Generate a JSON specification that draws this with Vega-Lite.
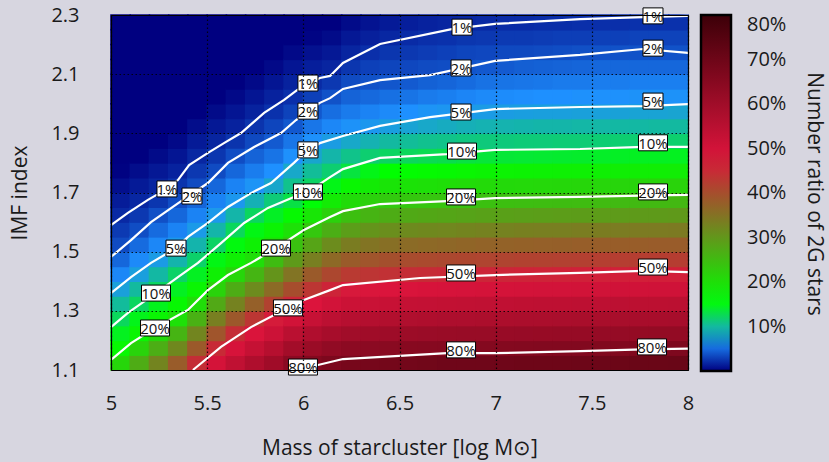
{
"$schema": "https://vega.github.io/schema/vega-lite/v6.json",
"width": 577, "height": 355,
"autosize": {"type": "none"},
"padding": {"left": 111, "top": 15, "right": 141, "bottom": 92},
"background": "#d7d6e0",
"config": {
  "font": "Open Sans",
  "view": {"stroke": null},
  "axis": {"labelFont": "Open Sans", "titleFont": "Open Sans", "labelFontSize": 20, "titleFontSize": 21, "titleFontWeight": "normal", "labelColor": "#1a1a1a", "titleColor": "#1a1a1a"}
},
"datasets": {
"grid": [
{"x":5.05,"y":1.125,"v":21.2},{"x":5.05,"y":1.175,"v":16.6},{"x":5.05,"y":1.225,"v":14.5},{"x":5.05,"y":1.275,"v":12.4},{"x":5.05,"y":1.325,"v":10.2},{"x":5.05,"y":1.375,"v":8},{"x":5.05,"y":1.425,"v":6.3},{"x":5.05,"y":1.475,"v":4.8},{"x":5.05,"y":1.525,"v":3.5},{"x":5.05,"y":1.575,"v":2.7},{"x":5.05,"y":1.625,"v":1.9},{"x":5.05,"y":1.675,"v":1.3},{"x":5.05,"y":1.725,"v":0.7},{"x":5.05,"y":1.775,"v":0.1},{"x":5.05,"y":1.825,"v":0},{"x":5.05,"y":1.875,"v":0},{"x":5.05,"y":1.925,"v":0},{"x":5.05,"y":1.975,"v":0},{"x":5.05,"y":2.025,"v":0},{"x":5.05,"y":2.075,"v":0},{"x":5.05,"y":2.125,"v":0},{"x":5.05,"y":2.175,"v":0},{"x":5.05,"y":2.225,"v":0},{"x":5.05,"y":2.275,"v":0},
{"x":5.15,"y":1.125,"v":27.1},{"x":5.15,"y":1.175,"v":21.6},{"x":5.15,"y":1.225,"v":17},{"x":5.15,"y":1.275,"v":14.7},{"x":5.15,"y":1.325,"v":12.3},{"x":5.15,"y":1.375,"v":10.1},{"x":5.15,"y":1.425,"v":7.9},{"x":5.15,"y":1.475,"v":6.4},{"x":5.15,"y":1.525,"v":5},{"x":5.15,"y":1.575,"v":3.6},{"x":5.15,"y":1.625,"v":2.6},{"x":5.15,"y":1.675,"v":1.8},{"x":5.15,"y":1.725,"v":1.2},{"x":5.15,"y":1.775,"v":0.6},{"x":5.15,"y":1.825,"v":0},{"x":5.15,"y":1.875,"v":0},{"x":5.15,"y":1.925,"v":0},{"x":5.15,"y":1.975,"v":0},{"x":5.15,"y":2.025,"v":0},{"x":5.15,"y":2.075,"v":0},{"x":5.15,"y":2.125,"v":0},{"x":5.15,"y":2.175,"v":0},{"x":5.15,"y":2.225,"v":0},{"x":5.15,"y":2.275,"v":0},
{"x":5.25,"y":1.125,"v":32.5},{"x":5.25,"y":1.175,"v":26.8},{"x":5.25,"y":1.225,"v":21.1},{"x":5.25,"y":1.275,"v":17},{"x":5.25,"y":1.325,"v":14.6},{"x":5.25,"y":1.375,"v":12.2},{"x":5.25,"y":1.425,"v":9.9},{"x":5.25,"y":1.475,"v":7.6},{"x":5.25,"y":1.525,"v":6.3},{"x":5.25,"y":1.575,"v":5},{"x":5.25,"y":1.625,"v":3.7},{"x":5.25,"y":1.675,"v":2.5},{"x":5.25,"y":1.725,"v":1.7},{"x":5.25,"y":1.775,"v":1.1},{"x":5.25,"y":1.825,"v":0.5},{"x":5.25,"y":1.875,"v":0},{"x":5.25,"y":1.925,"v":0},{"x":5.25,"y":1.975,"v":0},{"x":5.25,"y":2.025,"v":0},{"x":5.25,"y":2.075,"v":0},{"x":5.25,"y":2.125,"v":0},{"x":5.25,"y":2.175,"v":0},{"x":5.25,"y":2.225,"v":0},{"x":5.25,"y":2.275,"v":0},
{"x":5.35,"y":1.125,"v":38.1},{"x":5.35,"y":1.175,"v":32},{"x":5.35,"y":1.225,"v":25.9},{"x":5.35,"y":1.275,"v":19.8},{"x":5.35,"y":1.325,"v":16.7},{"x":5.35,"y":1.375,"v":14.4},{"x":5.35,"y":1.425,"v":12},{"x":5.35,"y":1.475,"v":9.6},{"x":5.35,"y":1.525,"v":7.4},{"x":5.35,"y":1.575,"v":6.1},{"x":5.35,"y":1.625,"v":4.8},{"x":5.35,"y":1.675,"v":3.6},{"x":5.35,"y":1.725,"v":2.4},{"x":5.35,"y":1.775,"v":1.6},{"x":5.35,"y":1.825,"v":1},{"x":5.35,"y":1.875,"v":0.4},{"x":5.35,"y":1.925,"v":0},{"x":5.35,"y":1.975,"v":0},{"x":5.35,"y":2.025,"v":0},{"x":5.35,"y":2.075,"v":0},{"x":5.35,"y":2.125,"v":0},{"x":5.35,"y":2.175,"v":0},{"x":5.35,"y":2.225,"v":0},{"x":5.35,"y":2.275,"v":0},
{"x":5.45,"y":1.125,"v":44.5},{"x":5.45,"y":1.175,"v":38.5},{"x":5.45,"y":1.225,"v":32.4},{"x":5.45,"y":1.275,"v":26.4},{"x":5.45,"y":1.325,"v":20.3},{"x":5.45,"y":1.375,"v":17},{"x":5.45,"y":1.425,"v":14.4},{"x":5.45,"y":1.475,"v":11.9},{"x":5.45,"y":1.525,"v":9.6},{"x":5.45,"y":1.575,"v":7.5},{"x":5.45,"y":1.625,"v":6.1},{"x":5.45,"y":1.675,"v":4.7},{"x":5.45,"y":1.725,"v":3.5},{"x":5.45,"y":1.775,"v":2.6},{"x":5.45,"y":1.825,"v":1.8},{"x":5.45,"y":1.875,"v":1.2},{"x":5.45,"y":1.925,"v":0.6},{"x":5.45,"y":1.975,"v":0},{"x":5.45,"y":2.025,"v":0},{"x":5.45,"y":2.075,"v":0},{"x":5.45,"y":2.125,"v":0},{"x":5.45,"y":2.175,"v":0},{"x":5.45,"y":2.225,"v":0},{"x":5.45,"y":2.275,"v":0},
{"x":5.55,"y":1.125,"v":49.6},{"x":5.55,"y":1.175,"v":44.9},{"x":5.55,"y":1.225,"v":39.1},{"x":5.55,"y":1.275,"v":33.3},{"x":5.55,"y":1.325,"v":27.5},{"x":5.55,"y":1.375,"v":21.7},{"x":5.55,"y":1.425,"v":17.8},{"x":5.55,"y":1.475,"v":14.9},{"x":5.55,"y":1.525,"v":12.1},{"x":5.55,"y":1.575,"v":9.7},{"x":5.55,"y":1.625,"v":7.4},{"x":5.55,"y":1.675,"v":6.1},{"x":5.55,"y":1.725,"v":4.8},{"x":5.55,"y":1.775,"v":3.5},{"x":5.55,"y":1.825,"v":2.5},{"x":5.55,"y":1.875,"v":1.7},{"x":5.55,"y":1.925,"v":1.1},{"x":5.55,"y":1.975,"v":0.5},{"x":5.55,"y":2.025,"v":0},{"x":5.55,"y":2.075,"v":0},{"x":5.55,"y":2.125,"v":0},{"x":5.55,"y":2.175,"v":0},{"x":5.55,"y":2.225,"v":0},{"x":5.55,"y":2.275,"v":0},
{"x":5.65,"y":1.125,"v":53.6},{"x":5.65,"y":1.175,"v":49.2},{"x":5.65,"y":1.225,"v":44.5},{"x":5.65,"y":1.275,"v":38.6},{"x":5.65,"y":1.325,"v":32.8},{"x":5.65,"y":1.375,"v":27},{"x":5.65,"y":1.425,"v":21.2},{"x":5.65,"y":1.475,"v":17.8},{"x":5.65,"y":1.525,"v":15.1},{"x":5.65,"y":1.575,"v":12.4},{"x":5.65,"y":1.625,"v":9.7},{"x":5.65,"y":1.675,"v":7.3},{"x":5.65,"y":1.725,"v":6.1},{"x":5.65,"y":1.775,"v":4.8},{"x":5.65,"y":1.825,"v":3.6},{"x":5.65,"y":1.875,"v":2.4},{"x":5.65,"y":1.925,"v":1.6},{"x":5.65,"y":1.975,"v":1},{"x":5.65,"y":2.025,"v":0.4},{"x":5.65,"y":2.075,"v":0},{"x":5.65,"y":2.125,"v":0},{"x":5.65,"y":2.175,"v":0},{"x":5.65,"y":2.225,"v":0},{"x":5.65,"y":2.275,"v":0},
{"x":5.75,"y":1.125,"v":57.1},{"x":5.75,"y":1.175,"v":52.7},{"x":5.75,"y":1.225,"v":48.4},{"x":5.75,"y":1.275,"v":43.3},{"x":5.75,"y":1.325,"v":37.5},{"x":5.75,"y":1.375,"v":31.6},{"x":5.75,"y":1.425,"v":25.8},{"x":5.75,"y":1.475,"v":20.2},{"x":5.75,"y":1.525,"v":17.6},{"x":5.75,"y":1.575,"v":14.9},{"x":5.75,"y":1.625,"v":12.3},{"x":5.75,"y":1.675,"v":9.3},{"x":5.75,"y":1.725,"v":7},{"x":5.75,"y":1.775,"v":5.8},{"x":5.75,"y":1.825,"v":4.6},{"x":5.75,"y":1.875,"v":3.4},{"x":5.75,"y":1.925,"v":2.4},{"x":5.75,"y":1.975,"v":1.6},{"x":5.75,"y":2.025,"v":1},{"x":5.75,"y":2.075,"v":0.4},{"x":5.75,"y":2.125,"v":0},{"x":5.75,"y":2.175,"v":0},{"x":5.75,"y":2.225,"v":0},{"x":5.75,"y":2.275,"v":0},
{"x":5.85,"y":1.125,"v":60.1},{"x":5.85,"y":1.175,"v":55.7},{"x":5.85,"y":1.225,"v":51.3},{"x":5.85,"y":1.275,"v":47},{"x":5.85,"y":1.325,"v":41.6},{"x":5.85,"y":1.375,"v":36},{"x":5.85,"y":1.425,"v":30.4},{"x":5.85,"y":1.475,"v":24.8},{"x":5.85,"y":1.525,"v":20.1},{"x":5.85,"y":1.575,"v":17.2},{"x":5.85,"y":1.625,"v":14.3},{"x":5.85,"y":1.675,"v":11.4},{"x":5.85,"y":1.725,"v":8.5},{"x":5.85,"y":1.775,"v":6.7},{"x":5.85,"y":1.825,"v":5.4},{"x":5.85,"y":1.875,"v":4.2},{"x":5.85,"y":1.925,"v":3.2},{"x":5.85,"y":1.975,"v":2.3},{"x":5.85,"y":2.025,"v":1.6},{"x":5.85,"y":2.075,"v":1},{"x":5.85,"y":2.125,"v":0.4},{"x":5.85,"y":2.175,"v":0},{"x":5.85,"y":2.225,"v":0},{"x":5.85,"y":2.275,"v":0},
{"x":5.95,"y":1.125,"v":64.2},{"x":5.95,"y":1.175,"v":59.5},{"x":5.95,"y":1.225,"v":54.8},{"x":5.95,"y":1.275,"v":50.2},{"x":5.95,"y":1.325,"v":45.5},{"x":5.95,"y":1.375,"v":40.1},{"x":5.95,"y":1.425,"v":34.8},{"x":5.95,"y":1.475,"v":29.5},{"x":5.95,"y":1.525,"v":24.2},{"x":5.95,"y":1.575,"v":19.8},{"x":5.95,"y":1.625,"v":16.5},{"x":5.95,"y":1.675,"v":13.2},{"x":5.95,"y":1.725,"v":10.7},{"x":5.95,"y":1.775,"v":8.6},{"x":5.95,"y":1.825,"v":6.8},{"x":5.95,"y":1.875,"v":5.5},{"x":5.95,"y":1.925,"v":4.1},{"x":5.95,"y":1.975,"v":3.1},{"x":5.95,"y":2.025,"v":2.2},{"x":5.95,"y":2.075,"v":1.6},{"x":5.95,"y":2.125,"v":1},{"x":5.95,"y":2.175,"v":0.4},{"x":5.95,"y":2.225,"v":0},{"x":5.95,"y":2.275,"v":0},
{"x":6.05,"y":1.125,"v":65.8},{"x":6.05,"y":1.175,"v":61.3},{"x":6.05,"y":1.225,"v":56.9},{"x":6.05,"y":1.275,"v":52.5},{"x":6.05,"y":1.325,"v":48},{"x":6.05,"y":1.375,"v":43.3},{"x":6.05,"y":1.425,"v":38.3},{"x":6.05,"y":1.475,"v":33.3},{"x":6.05,"y":1.525,"v":28.2},{"x":6.05,"y":1.575,"v":23.2},{"x":6.05,"y":1.625,"v":19.1},{"x":6.05,"y":1.675,"v":15.4},{"x":6.05,"y":1.725,"v":12.1},{"x":6.05,"y":1.775,"v":10.3},{"x":6.05,"y":1.825,"v":8.4},{"x":6.05,"y":1.875,"v":6.8},{"x":6.05,"y":1.925,"v":5.5},{"x":6.05,"y":1.975,"v":4.1},{"x":6.05,"y":2.025,"v":3},{"x":6.05,"y":2.075,"v":2},{"x":6.05,"y":2.125,"v":1.4},{"x":6.05,"y":2.175,"v":0.8},{"x":6.05,"y":2.225,"v":0.2},{"x":6.05,"y":2.275,"v":0},
{"x":6.15,"y":1.125,"v":67.3},{"x":6.15,"y":1.175,"v":63},{"x":6.15,"y":1.225,"v":58.7},{"x":6.15,"y":1.275,"v":54.4},{"x":6.15,"y":1.325,"v":50.1},{"x":6.15,"y":1.375,"v":45.8},{"x":6.15,"y":1.425,"v":41},{"x":6.15,"y":1.475,"v":36.3},{"x":6.15,"y":1.525,"v":31.5},{"x":6.15,"y":1.575,"v":26.7},{"x":6.15,"y":1.625,"v":22},{"x":6.15,"y":1.675,"v":18.4},{"x":6.15,"y":1.725,"v":14.8},{"x":6.15,"y":1.775,"v":11.7},{"x":6.15,"y":1.825,"v":9.7},{"x":6.15,"y":1.875,"v":7.7},{"x":6.15,"y":1.925,"v":6.3},{"x":6.15,"y":1.975,"v":5.1},{"x":6.15,"y":2.025,"v":3.8},{"x":6.15,"y":2.075,"v":2.6},{"x":6.15,"y":2.125,"v":1.7},{"x":6.15,"y":2.175,"v":1.1},{"x":6.15,"y":2.225,"v":0.5},{"x":6.15,"y":2.275,"v":0},
{"x":6.25,"y":1.125,"v":68.2},{"x":6.25,"y":1.175,"v":64},{"x":6.25,"y":1.225,"v":59.8},{"x":6.25,"y":1.275,"v":55.6},{"x":6.25,"y":1.325,"v":51.4},{"x":6.25,"y":1.375,"v":47.3},{"x":6.25,"y":1.425,"v":42.8},{"x":6.25,"y":1.475,"v":38.2},{"x":6.25,"y":1.525,"v":33.6},{"x":6.25,"y":1.575,"v":29},{"x":6.25,"y":1.625,"v":24.4},{"x":6.25,"y":1.675,"v":20.5},{"x":6.25,"y":1.725,"v":16.9},{"x":6.25,"y":1.775,"v":13.4},{"x":6.25,"y":1.825,"v":10.8},{"x":6.25,"y":1.875,"v":8.6},{"x":6.25,"y":1.925,"v":6.9},{"x":6.25,"y":1.975,"v":5.7},{"x":6.25,"y":2.025,"v":4.6},{"x":6.25,"y":2.075,"v":3.5},{"x":6.25,"y":2.125,"v":2.5},{"x":6.25,"y":2.175,"v":1.7},{"x":6.25,"y":2.225,"v":1.1},{"x":6.25,"y":2.275,"v":0.5},
{"x":6.35,"y":1.125,"v":68.4},{"x":6.35,"y":1.175,"v":64.3},{"x":6.35,"y":1.225,"v":60.1},{"x":6.35,"y":1.275,"v":56},{"x":6.35,"y":1.325,"v":51.9},{"x":6.35,"y":1.375,"v":47.7},{"x":6.35,"y":1.425,"v":43.5},{"x":6.35,"y":1.475,"v":39.1},{"x":6.35,"y":1.525,"v":34.7},{"x":6.35,"y":1.575,"v":30.3},{"x":6.35,"y":1.625,"v":25.9},{"x":6.35,"y":1.675,"v":21.9},{"x":6.35,"y":1.725,"v":18.3},{"x":6.35,"y":1.775,"v":14.8},{"x":6.35,"y":1.825,"v":11.7},{"x":6.35,"y":1.875,"v":9.4},{"x":6.35,"y":1.925,"v":7.3},{"x":6.35,"y":1.975,"v":6.1},{"x":6.35,"y":2.025,"v":4.9},{"x":6.35,"y":2.075,"v":3.8},{"x":6.35,"y":2.125,"v":3},{"x":6.35,"y":2.175,"v":2.2},{"x":6.35,"y":2.225,"v":1.5},{"x":6.35,"y":2.275,"v":0.9},
{"x":6.45,"y":1.125,"v":68.8},{"x":6.45,"y":1.175,"v":64.6},{"x":6.45,"y":1.225,"v":60.5},{"x":6.45,"y":1.275,"v":56.4},{"x":6.45,"y":1.325,"v":52.3},{"x":6.45,"y":1.375,"v":48.2},{"x":6.45,"y":1.425,"v":44},{"x":6.45,"y":1.475,"v":39.8},{"x":6.45,"y":1.525,"v":35.5},{"x":6.45,"y":1.575,"v":31.2},{"x":6.45,"y":1.625,"v":27},{"x":6.45,"y":1.675,"v":22.9},{"x":6.45,"y":1.725,"v":19.3},{"x":6.45,"y":1.775,"v":15.7},{"x":6.45,"y":1.825,"v":12.2},{"x":6.45,"y":1.875,"v":10},{"x":6.45,"y":1.925,"v":7.8},{"x":6.45,"y":1.975,"v":6.4},{"x":6.45,"y":2.025,"v":5.2},{"x":6.45,"y":2.075,"v":4},{"x":6.45,"y":2.125,"v":3.2},{"x":6.45,"y":2.175,"v":2.5},{"x":6.45,"y":2.225,"v":1.8},{"x":6.45,"y":2.275,"v":1.2},
{"x":6.55,"y":1.125,"v":69.1},{"x":6.55,"y":1.175,"v":65},{"x":6.55,"y":1.225,"v":60.9},{"x":6.55,"y":1.275,"v":56.8},{"x":6.55,"y":1.325,"v":52.8},{"x":6.55,"y":1.375,"v":48.7},{"x":6.55,"y":1.425,"v":44.5},{"x":6.55,"y":1.475,"v":40.3},{"x":6.55,"y":1.525,"v":36},{"x":6.55,"y":1.575,"v":31.7},{"x":6.55,"y":1.625,"v":27.4},{"x":6.55,"y":1.675,"v":23.3},{"x":6.55,"y":1.725,"v":19.6},{"x":6.55,"y":1.775,"v":16},{"x":6.55,"y":1.825,"v":12.4},{"x":6.55,"y":1.875,"v":10.3},{"x":6.55,"y":1.925,"v":8.2},{"x":6.55,"y":1.975,"v":6.7},{"x":6.55,"y":2.025,"v":5.4},{"x":6.55,"y":2.075,"v":4.2},{"x":6.55,"y":2.125,"v":3.3},{"x":6.55,"y":2.175,"v":2.6},{"x":6.55,"y":2.225,"v":2},{"x":6.55,"y":2.275,"v":1.4},
{"x":6.65,"y":1.125,"v":69.4},{"x":6.65,"y":1.175,"v":65.3},{"x":6.65,"y":1.225,"v":61.2},{"x":6.65,"y":1.275,"v":57.1},{"x":6.65,"y":1.325,"v":53.1},{"x":6.65,"y":1.375,"v":49},{"x":6.65,"y":1.425,"v":44.8},{"x":6.65,"y":1.475,"v":40.6},{"x":6.65,"y":1.525,"v":36.3},{"x":6.65,"y":1.575,"v":32},{"x":6.65,"y":1.625,"v":27.7},{"x":6.65,"y":1.675,"v":23.5},{"x":6.65,"y":1.725,"v":19.9},{"x":6.65,"y":1.775,"v":16.3},{"x":6.65,"y":1.825,"v":12.7},{"x":6.65,"y":1.875,"v":10.6},{"x":6.65,"y":1.925,"v":8.6},{"x":6.65,"y":1.975,"v":7},{"x":6.65,"y":2.025,"v":5.7},{"x":6.65,"y":2.075,"v":4.5},{"x":6.65,"y":2.125,"v":3.5},{"x":6.65,"y":2.175,"v":2.8},{"x":6.65,"y":2.225,"v":2.2},{"x":6.65,"y":2.275,"v":1.6},
{"x":6.75,"y":1.125,"v":69.7},{"x":6.75,"y":1.175,"v":65.5},{"x":6.75,"y":1.225,"v":61.5},{"x":6.75,"y":1.275,"v":57.4},{"x":6.75,"y":1.325,"v":53.3},{"x":6.75,"y":1.375,"v":49.3},{"x":6.75,"y":1.425,"v":45.1},{"x":6.75,"y":1.475,"v":40.8},{"x":6.75,"y":1.525,"v":36.5},{"x":6.75,"y":1.575,"v":32.2},{"x":6.75,"y":1.625,"v":28},{"x":6.75,"y":1.675,"v":23.7},{"x":6.75,"y":1.725,"v":20.1},{"x":6.75,"y":1.775,"v":16.5},{"x":6.75,"y":1.825,"v":12.9},{"x":6.75,"y":1.875,"v":10.8},{"x":6.75,"y":1.925,"v":8.9},{"x":6.75,"y":1.975,"v":7.2},{"x":6.75,"y":2.025,"v":5.9},{"x":6.75,"y":2.075,"v":4.7},{"x":6.75,"y":2.125,"v":3.6},{"x":6.75,"y":2.175,"v":3},{"x":6.75,"y":2.225,"v":2.3},{"x":6.75,"y":2.275,"v":1.7},
{"x":6.85,"y":1.125,"v":69.7},{"x":6.85,"y":1.175,"v":65.6},{"x":6.85,"y":1.225,"v":61.6},{"x":6.85,"y":1.275,"v":57.5},{"x":6.85,"y":1.325,"v":53.5},{"x":6.85,"y":1.375,"v":49.5},{"x":6.85,"y":1.425,"v":45.4},{"x":6.85,"y":1.475,"v":41.1},{"x":6.85,"y":1.525,"v":36.8},{"x":6.85,"y":1.575,"v":32.5},{"x":6.85,"y":1.625,"v":28.3},{"x":6.85,"y":1.675,"v":24},{"x":6.85,"y":1.725,"v":20.4},{"x":6.85,"y":1.775,"v":16.9},{"x":6.85,"y":1.825,"v":13.3},{"x":6.85,"y":1.875,"v":11.1},{"x":6.85,"y":1.925,"v":9.2},{"x":6.85,"y":1.975,"v":7.4},{"x":6.85,"y":2.025,"v":6.2},{"x":6.85,"y":2.075,"v":5},{"x":6.85,"y":2.125,"v":3.9},{"x":6.85,"y":2.175,"v":3.2},{"x":6.85,"y":2.225,"v":2.5},{"x":6.85,"y":2.275,"v":1.8},
{"x":6.95,"y":1.125,"v":69.7},{"x":6.95,"y":1.175,"v":65.6},{"x":6.95,"y":1.225,"v":61.6},{"x":6.95,"y":1.275,"v":57.6},{"x":6.95,"y":1.325,"v":53.6},{"x":6.95,"y":1.375,"v":49.6},{"x":6.95,"y":1.425,"v":45.6},{"x":6.95,"y":1.475,"v":41.3},{"x":6.95,"y":1.525,"v":37.1},{"x":6.95,"y":1.575,"v":32.8},{"x":6.95,"y":1.625,"v":28.6},{"x":6.95,"y":1.675,"v":24.3},{"x":6.95,"y":1.725,"v":20.7},{"x":6.95,"y":1.775,"v":17.2},{"x":6.95,"y":1.825,"v":13.6},{"x":6.95,"y":1.875,"v":11.3},{"x":6.95,"y":1.925,"v":9.4},{"x":6.95,"y":1.975,"v":7.6},{"x":6.95,"y":2.025,"v":6.4},{"x":6.95,"y":2.075,"v":5.3},{"x":6.95,"y":2.125,"v":4.1},{"x":6.95,"y":2.175,"v":3.3},{"x":6.95,"y":2.225,"v":2.6},{"x":6.95,"y":2.275,"v":1.9},
{"x":7.05,"y":1.125,"v":69.8},{"x":7.05,"y":1.175,"v":65.7},{"x":7.05,"y":1.225,"v":61.7},{"x":7.05,"y":1.275,"v":57.7},{"x":7.05,"y":1.325,"v":53.7},{"x":7.05,"y":1.375,"v":49.7},{"x":7.05,"y":1.425,"v":45.7},{"x":7.05,"y":1.475,"v":41.4},{"x":7.05,"y":1.525,"v":37.2},{"x":7.05,"y":1.575,"v":32.9},{"x":7.05,"y":1.625,"v":28.7},{"x":7.05,"y":1.675,"v":24.4},{"x":7.05,"y":1.725,"v":20.8},{"x":7.05,"y":1.775,"v":17.3},{"x":7.05,"y":1.825,"v":13.7},{"x":7.05,"y":1.875,"v":11.3},{"x":7.05,"y":1.925,"v":9.5},{"x":7.05,"y":1.975,"v":7.7},{"x":7.05,"y":2.025,"v":6.5},{"x":7.05,"y":2.075,"v":5.4},{"x":7.05,"y":2.125,"v":4.2},{"x":7.05,"y":2.175,"v":3.4},{"x":7.05,"y":2.225,"v":2.7},{"x":7.05,"y":2.275,"v":2},
{"x":7.15,"y":1.125,"v":69.9},{"x":7.15,"y":1.175,"v":65.8},{"x":7.15,"y":1.225,"v":61.8},{"x":7.15,"y":1.275,"v":57.8},{"x":7.15,"y":1.325,"v":53.9},{"x":7.15,"y":1.375,"v":49.9},{"x":7.15,"y":1.425,"v":45.9},{"x":7.15,"y":1.475,"v":41.6},{"x":7.15,"y":1.525,"v":37.4},{"x":7.15,"y":1.575,"v":33.1},{"x":7.15,"y":1.625,"v":28.9},{"x":7.15,"y":1.675,"v":24.6},{"x":7.15,"y":1.725,"v":20.9},{"x":7.15,"y":1.775,"v":17.4},{"x":7.15,"y":1.825,"v":13.8},{"x":7.15,"y":1.875,"v":11.4},{"x":7.15,"y":1.925,"v":9.6},{"x":7.15,"y":1.975,"v":7.8},{"x":7.15,"y":2.025,"v":6.6},{"x":7.15,"y":2.075,"v":5.5},{"x":7.15,"y":2.125,"v":4.4},{"x":7.15,"y":2.175,"v":3.4},{"x":7.15,"y":2.225,"v":2.7},{"x":7.15,"y":2.275,"v":2},
{"x":7.25,"y":1.125,"v":70},{"x":7.25,"y":1.175,"v":65.9},{"x":7.25,"y":1.225,"v":61.9},{"x":7.25,"y":1.275,"v":57.9},{"x":7.25,"y":1.325,"v":54},{"x":7.25,"y":1.375,"v":50},{"x":7.25,"y":1.425,"v":46},{"x":7.25,"y":1.475,"v":41.7},{"x":7.25,"y":1.525,"v":37.5},{"x":7.25,"y":1.575,"v":33.2},{"x":7.25,"y":1.625,"v":29},{"x":7.25,"y":1.675,"v":24.7},{"x":7.25,"y":1.725,"v":21},{"x":7.25,"y":1.775,"v":17.5},{"x":7.25,"y":1.825,"v":13.9},{"x":7.25,"y":1.875,"v":11.4},{"x":7.25,"y":1.925,"v":9.7},{"x":7.25,"y":1.975,"v":7.9},{"x":7.25,"y":2.025,"v":6.7},{"x":7.25,"y":2.075,"v":5.6},{"x":7.25,"y":2.125,"v":4.5},{"x":7.25,"y":2.175,"v":3.5},{"x":7.25,"y":2.225,"v":2.8},{"x":7.25,"y":2.275,"v":2.1},
{"x":7.35,"y":1.125,"v":70.1},{"x":7.35,"y":1.175,"v":66},{"x":7.35,"y":1.225,"v":62},{"x":7.35,"y":1.275,"v":58},{"x":7.35,"y":1.325,"v":54.1},{"x":7.35,"y":1.375,"v":50.1},{"x":7.35,"y":1.425,"v":46.1},{"x":7.35,"y":1.475,"v":41.8},{"x":7.35,"y":1.525,"v":37.6},{"x":7.35,"y":1.575,"v":33.3},{"x":7.35,"y":1.625,"v":29.1},{"x":7.35,"y":1.675,"v":24.8},{"x":7.35,"y":1.725,"v":21.1},{"x":7.35,"y":1.775,"v":17.6},{"x":7.35,"y":1.825,"v":14},{"x":7.35,"y":1.875,"v":11.5},{"x":7.35,"y":1.925,"v":9.7},{"x":7.35,"y":1.975,"v":7.9},{"x":7.35,"y":2.025,"v":6.7},{"x":7.35,"y":2.075,"v":5.7},{"x":7.35,"y":2.125,"v":4.6},{"x":7.35,"y":2.175,"v":3.6},{"x":7.35,"y":2.225,"v":2.9},{"x":7.35,"y":2.275,"v":2.1},
{"x":7.45,"y":1.125,"v":70.3},{"x":7.45,"y":1.175,"v":66.1},{"x":7.45,"y":1.225,"v":62.1},{"x":7.45,"y":1.275,"v":58.2},{"x":7.45,"y":1.325,"v":54.2},{"x":7.45,"y":1.375,"v":50.3},{"x":7.45,"y":1.425,"v":46.3},{"x":7.45,"y":1.475,"v":42},{"x":7.45,"y":1.525,"v":37.8},{"x":7.45,"y":1.575,"v":33.5},{"x":7.45,"y":1.625,"v":29.2},{"x":7.45,"y":1.675,"v":24.9},{"x":7.45,"y":1.725,"v":21.2},{"x":7.45,"y":1.775,"v":17.7},{"x":7.45,"y":1.825,"v":14.1},{"x":7.45,"y":1.875,"v":11.5},{"x":7.45,"y":1.925,"v":9.8},{"x":7.45,"y":1.975,"v":8},{"x":7.45,"y":2.025,"v":6.8},{"x":7.45,"y":2.075,"v":5.7},{"x":7.45,"y":2.125,"v":4.7},{"x":7.45,"y":2.175,"v":3.7},{"x":7.45,"y":2.225,"v":2.9},{"x":7.45,"y":2.275,"v":2.2},
{"x":7.55,"y":1.125,"v":70.4},{"x":7.55,"y":1.175,"v":66.2},{"x":7.55,"y":1.225,"v":62.2},{"x":7.55,"y":1.275,"v":58.3},{"x":7.55,"y":1.325,"v":54.3},{"x":7.55,"y":1.375,"v":50.4},{"x":7.55,"y":1.425,"v":46.4},{"x":7.55,"y":1.475,"v":42.1},{"x":7.55,"y":1.525,"v":37.9},{"x":7.55,"y":1.575,"v":33.6},{"x":7.55,"y":1.625,"v":29.3},{"x":7.55,"y":1.675,"v":25},{"x":7.55,"y":1.725,"v":21.3},{"x":7.55,"y":1.775,"v":17.8},{"x":7.55,"y":1.825,"v":14.2},{"x":7.55,"y":1.875,"v":11.6},{"x":7.55,"y":1.925,"v":9.8},{"x":7.55,"y":1.975,"v":8},{"x":7.55,"y":2.025,"v":6.8},{"x":7.55,"y":2.075,"v":5.8},{"x":7.55,"y":2.125,"v":4.8},{"x":7.55,"y":2.175,"v":3.8},{"x":7.55,"y":2.225,"v":3},{"x":7.55,"y":2.275,"v":2.2},
{"x":7.65,"y":1.125,"v":70.5},{"x":7.65,"y":1.175,"v":66.3},{"x":7.65,"y":1.225,"v":62.3},{"x":7.65,"y":1.275,"v":58.4},{"x":7.65,"y":1.325,"v":54.4},{"x":7.65,"y":1.375,"v":50.5},{"x":7.65,"y":1.425,"v":46.5},{"x":7.65,"y":1.475,"v":42.2},{"x":7.65,"y":1.525,"v":38},{"x":7.65,"y":1.575,"v":33.7},{"x":7.65,"y":1.625,"v":29.4},{"x":7.65,"y":1.675,"v":25.1},{"x":7.65,"y":1.725,"v":21.4},{"x":7.65,"y":1.775,"v":17.9},{"x":7.65,"y":1.825,"v":14.3},{"x":7.65,"y":1.875,"v":11.7},{"x":7.65,"y":1.925,"v":9.9},{"x":7.65,"y":1.975,"v":8.1},{"x":7.65,"y":2.025,"v":6.8},{"x":7.65,"y":2.075,"v":5.8},{"x":7.65,"y":2.125,"v":4.8},{"x":7.65,"y":2.175,"v":3.8},{"x":7.65,"y":2.225,"v":3},{"x":7.65,"y":2.275,"v":2.2},
{"x":7.75,"y":1.125,"v":70.7},{"x":7.75,"y":1.175,"v":66.5},{"x":7.75,"y":1.225,"v":62.5},{"x":7.75,"y":1.275,"v":58.5},{"x":7.75,"y":1.325,"v":54.5},{"x":7.75,"y":1.375,"v":50.5},{"x":7.75,"y":1.425,"v":46.5},{"x":7.75,"y":1.475,"v":42.2},{"x":7.75,"y":1.525,"v":38},{"x":7.75,"y":1.575,"v":33.8},{"x":7.75,"y":1.625,"v":29.5},{"x":7.75,"y":1.675,"v":25.2},{"x":7.75,"y":1.725,"v":21.5},{"x":7.75,"y":1.775,"v":18},{"x":7.75,"y":1.825,"v":14.4},{"x":7.75,"y":1.875,"v":11.7},{"x":7.75,"y":1.925,"v":9.9},{"x":7.75,"y":1.975,"v":8.2},{"x":7.75,"y":2.025,"v":6.9},{"x":7.75,"y":2.075,"v":5.9},{"x":7.75,"y":2.125,"v":4.8},{"x":7.75,"y":2.175,"v":3.8},{"x":7.75,"y":2.225,"v":3.1},{"x":7.75,"y":2.275,"v":2.3},
{"x":7.85,"y":1.125,"v":70.8},{"x":7.85,"y":1.175,"v":66.6},{"x":7.85,"y":1.225,"v":62.6},{"x":7.85,"y":1.275,"v":58.5},{"x":7.85,"y":1.325,"v":54.5},{"x":7.85,"y":1.375,"v":50.6},{"x":7.85,"y":1.425,"v":46.6},{"x":7.85,"y":1.475,"v":42.3},{"x":7.85,"y":1.525,"v":38.1},{"x":7.85,"y":1.575,"v":33.8},{"x":7.85,"y":1.625,"v":29.5},{"x":7.85,"y":1.675,"v":25.3},{"x":7.85,"y":1.725,"v":21.5},{"x":7.85,"y":1.775,"v":18},{"x":7.85,"y":1.825,"v":14.4},{"x":7.85,"y":1.875,"v":11.8},{"x":7.85,"y":1.925,"v":10},{"x":7.85,"y":1.975,"v":8.2},{"x":7.85,"y":2.025,"v":6.9},{"x":7.85,"y":2.075,"v":5.9},{"x":7.85,"y":2.125,"v":4.8},{"x":7.85,"y":2.175,"v":3.8},{"x":7.85,"y":2.225,"v":3.1},{"x":7.85,"y":2.275,"v":2.3},
{"x":7.95,"y":1.125,"v":70.9},{"x":7.95,"y":1.175,"v":66.7},{"x":7.95,"y":1.225,"v":62.7},{"x":7.95,"y":1.275,"v":58.6},{"x":7.95,"y":1.325,"v":54.6},{"x":7.95,"y":1.375,"v":50.6},{"x":7.95,"y":1.425,"v":46.6},{"x":7.95,"y":1.475,"v":42.3},{"x":7.95,"y":1.525,"v":38.1},{"x":7.95,"y":1.575,"v":33.9},{"x":7.95,"y":1.625,"v":29.6},{"x":7.95,"y":1.675,"v":25.4},{"x":7.95,"y":1.725,"v":21.6},{"x":7.95,"y":1.775,"v":18.1},{"x":7.95,"y":1.825,"v":14.5},{"x":7.95,"y":1.875,"v":11.8},{"x":7.95,"y":1.925,"v":10},{"x":7.95,"y":1.975,"v":8.3},{"x":7.95,"y":2.025,"v":6.9},{"x":7.95,"y":2.075,"v":5.9},{"x":7.95,"y":2.125,"v":4.8},{"x":7.95,"y":2.175,"v":3.8},{"x":7.95,"y":2.225,"v":3.1},{"x":7.95,"y":2.275,"v":2.3}
],
"lines": [
{"lev":"1%","x":5.0,"y":1.590},{"lev":"1%","x":5.088,"y":1.631},{"lev":"1%","x":5.192,"y":1.675},{"lev":"1%","x":5.291,"y":1.712},{"lev":"1%","x":5.348,"y":1.742},{"lev":"1%","x":5.406,"y":1.793},{"lev":"1%","x":5.504,"y":1.834},{"lev":"1%","x":5.598,"y":1.871},{"lev":"1%","x":5.676,"y":1.901},{"lev":"1%","x":5.796,"y":1.969},{"lev":"1%","x":5.900,"y":2.013},{"lev":"1%","x":5.967,"y":2.046},{"lev":"1%","x":6.086,"y":2.087},{"lev":"1%","x":6.139,"y":2.094},{"lev":"1%","x":6.206,"y":2.138},{"lev":"1%","x":6.399,"y":2.202},{"lev":"1%","x":6.778,"y":2.253},{"lev":"1%","x":6.997,"y":2.270},{"lev":"1%","x":7.439,"y":2.286},{"lev":"1%","x":7.766,"y":2.293},{"lev":"1%","x":8.0,"y":2.297},
{"lev":"2%","x":5.0,"y":1.482},{"lev":"2%","x":5.104,"y":1.539},{"lev":"2%","x":5.208,"y":1.600},{"lev":"2%","x":5.374,"y":1.675},{"lev":"2%","x":5.504,"y":1.732},{"lev":"2%","x":5.608,"y":1.800},{"lev":"2%","x":5.744,"y":1.854},{"lev":"2%","x":5.884,"y":1.901},{"lev":"2%","x":5.962,"y":1.945},{"lev":"2%","x":6.086,"y":2.003},{"lev":"2%","x":6.139,"y":2.019},{"lev":"2%","x":6.206,"y":2.050},{"lev":"2%","x":6.399,"y":2.080},{"lev":"2%","x":6.659,"y":2.097},{"lev":"2%","x":6.997,"y":2.145},{"lev":"2%","x":7.439,"y":2.165},{"lev":"2%","x":7.766,"y":2.185},{"lev":"2%","x":8.0,"y":2.172},
{"lev":"5%","x":5.0,"y":1.360},{"lev":"5%","x":5.104,"y":1.414},{"lev":"5%","x":5.208,"y":1.462},{"lev":"5%","x":5.338,"y":1.512},{"lev":"5%","x":5.400,"y":1.550},{"lev":"5%","x":5.504,"y":1.597},{"lev":"5%","x":5.608,"y":1.651},{"lev":"5%","x":5.728,"y":1.698},{"lev":"5%","x":5.832,"y":1.732},{"lev":"5%","x":5.951,"y":1.800},{"lev":"5%","x":5.983,"y":1.820},{"lev":"5%","x":6.086,"y":1.867},{"lev":"5%","x":6.206,"y":1.891},{"lev":"5%","x":6.399,"y":1.925},{"lev":"5%","x":6.659,"y":1.955},{"lev":"5%","x":6.997,"y":1.982},{"lev":"5%","x":7.439,"y":1.989},{"lev":"5%","x":7.766,"y":1.992},{"lev":"5%","x":8.0,"y":1.999},
{"lev":"10%","x":5.0,"y":1.245},{"lev":"10%","x":5.088,"y":1.293},{"lev":"10%","x":5.234,"y":1.360},{"lev":"10%","x":5.348,"y":1.414},{"lev":"10%","x":5.452,"y":1.462},{"lev":"10%","x":5.572,"y":1.529},{"lev":"10%","x":5.692,"y":1.597},{"lev":"10%","x":5.816,"y":1.648},{"lev":"10%","x":5.951,"y":1.685},{"lev":"10%","x":6.024,"y":1.702},{"lev":"10%","x":6.139,"y":1.752},{"lev":"10%","x":6.206,"y":1.779},{"lev":"10%","x":6.399,"y":1.817},{"lev":"10%","x":6.747,"y":1.830},{"lev":"10%","x":6.997,"y":1.844},{"lev":"10%","x":7.439,"y":1.847},{"lev":"10%","x":7.766,"y":1.854},{"lev":"10%","x":8.0,"y":1.854},
{"lev":"20%","x":5.0,"y":1.134},{"lev":"20%","x":5.104,"y":1.191},{"lev":"20%","x":5.229,"y":1.242},{"lev":"20%","x":5.400,"y":1.303},{"lev":"20%","x":5.504,"y":1.370},{"lev":"20%","x":5.608,"y":1.421},{"lev":"20%","x":5.728,"y":1.462},{"lev":"20%","x":5.858,"y":1.512},{"lev":"20%","x":6.003,"y":1.573},{"lev":"20%","x":6.139,"y":1.617},{"lev":"20%","x":6.206,"y":1.637},{"lev":"20%","x":6.399,"y":1.661},{"lev":"20%","x":6.747,"y":1.671},{"lev":"20%","x":6.997,"y":1.681},{"lev":"20%","x":7.439,"y":1.685},{"lev":"20%","x":7.818,"y":1.690},{"lev":"20%","x":8.0,"y":1.692},
{"lev":"50%","x":5.426,"y":1.100},{"lev":"50%","x":5.572,"y":1.178},{"lev":"50%","x":5.728,"y":1.245},{"lev":"50%","x":5.920,"y":1.310},{"lev":"50%","x":6.003,"y":1.337},{"lev":"50%","x":6.139,"y":1.370},{"lev":"50%","x":6.206,"y":1.387},{"lev":"50%","x":6.607,"y":1.411},{"lev":"50%","x":6.997,"y":1.421},{"lev":"50%","x":7.439,"y":1.428},{"lev":"50%","x":7.766,"y":1.435},{"lev":"50%","x":8.0,"y":1.431},
{"lev":"80%","x":5.96,"y":1.100},{"lev":"80%","x":6.076,"y":1.117},{"lev":"80%","x":6.206,"y":1.137},{"lev":"80%","x":6.747,"y":1.157},{"lev":"80%","x":6.997,"y":1.157},{"lev":"80%","x":7.439,"y":1.164},{"lev":"80%","x":7.766,"y":1.170},{"lev":"80%","x":8.0,"y":1.172}
],
"labs": [
{"lab":"1%","x":5.291,"y":1.712},{"lab":"1%","x":6.024,"y":2.070},{"lab":"1%","x":6.825,"y":2.259},{"lab":"1%","x":7.818,"y":2.297},
{"lab":"2%","x":5.421,"y":1.688},{"lab":"2%","x":6.024,"y":1.975},{"lab":"2%","x":6.820,"y":2.121},{"lab":"2%","x":7.818,"y":2.188},
{"lab":"5%","x":5.338,"y":1.512},{"lab":"5%","x":6.024,"y":1.844},{"lab":"5%","x":6.820,"y":1.972},{"lab":"5%","x":7.818,"y":2.009},
{"lab":"10%","x":5.234,"y":1.360},{"lab":"10%","x":6.024,"y":1.702},{"lab":"10%","x":6.825,"y":1.840},{"lab":"10%","x":7.818,"y":1.868},
{"lab":"20%","x":5.229,"y":1.242},{"lab":"20%","x":5.858,"y":1.512},{"lab":"20%","x":6.820,"y":1.685},{"lab":"20%","x":7.818,"y":1.702},
{"lab":"50%","x":5.920,"y":1.310},{"lab":"50%","x":6.820,"y":1.428},{"lab":"50%","x":7.818,"y":1.448},
{"lab":"80%","x":5.998,"y":1.110},{"lab":"80%","x":6.820,"y":1.168},{"lab":"80%","x":7.813,"y":1.178}
]
},
"layer": [
{
  "data": {"name": "grid"},
  "mark": {"type": "rect", "width": {"band": 1.08}, "height": {"band": 1.1}},
  "encoding": {
    "x": {"field": "x", "type": "ordinal", "scale": {"paddingInner": 0, "paddingOuter": 0},
          "axis": {"orient": "top", "labels": false, "ticks": false, "title": null, "grid": false, "domainColor": "black", "domainWidth": 1.2, "zindex": 2}},
    "y": {"field": "y", "type": "ordinal", "sort": "descending", "scale": {"paddingInner": 0, "paddingOuter": 0},
          "axis": {"orient": "right", "labels": false, "ticks": false, "title": null, "grid": false, "domainColor": "black", "domainWidth": 1.2, "zindex": 2}},
    "color": {"field": "v", "type": "quantitative",
      "scale": {"type": "linear", "domain": [0, 6.7, 15.6, 48, 80], "range": ["#000080", "#1e90ff", "#00ff00", "#dc143c", "#3c0008"], "interpolate": "rgb", "clamp": true},
      "legend": {"type": "gradient", "orient": "right", "offset": 8, "direction": "vertical", "gradientLength": 356, "gradientThickness": 30,
        "gradientStrokeColor": "black", "gradientStrokeWidth": 2.5, "values": [10, 20, 30, 40, 50, 60, 70, 80],
        "labelExpr": "datum.value + '%'", "labelFontSize": 20, "labelFont": "Open Sans", "labelColor": "#1a1a1a",
        "labelOffset": 16, "labelBaseline": "middle", "labelOverlap": false,
        "title": "Number ratio of 2G stars", "titleOrient": "right", "titleAnchor": "middle", "titleFontSize": 21, "titleLimit": 500,
        "titleFontWeight": "normal", "titleFont": "Open Sans", "titleColor": "#1a1a1a", "titlePadding": 18, "padding": 0,
        "encode": {"title": {"update": {"angle": {"value": 90}}}}}}
  }
},
{
  "layer": [
    {
      "data": {"name": "lines"},
      "mark": {"type": "line", "color": "white", "strokeWidth": 2.2},
      "encoding": {
        "x": {"field": "x", "type": "quantitative", "scale": {"domain": [5, 8], "nice": false, "zero": false},
              "axis": {"orient": "bottom", "values": [5, 5.5, 6, 6.5, 7, 7.5, 8], "format": "~g", "ticks": false,
                       "domainColor": "black", "domainWidth": 1.2, "grid": true, "gridColor": "black", "gridDash": [1.5, 2.5],
                       "gridWidth": 1.2, "gridOpacity": 0.85, "labelPadding": 23, "labelFlush": false,
                       "title": "Mass of starcluster [log M⊙]", "titlePadding": 24, "zindex": 2}},
        "y": {"field": "y", "type": "quantitative", "scale": {"domain": [1.1, 2.3], "nice": false, "zero": false},
              "axis": {"orient": "left", "values": [1.1, 1.3, 1.5, 1.7, 1.9, 2.1, 2.3], "format": ".1f", "ticks": false,
                       "domainColor": "black", "domainWidth": 1.2, "grid": true, "gridColor": "black", "gridDash": [1.5, 2.5],
                       "gridWidth": 1.2, "gridOpacity": 0.85, "labelPadding": 32, "labelFlush": false,
                       "title": "IMF index", "titlePadding": 20, "zindex": 2}},
        "detail": {"field": "lev"}
      }
    },
    {
      "data": {"name": "labs"},
      "mark": {"type": "point", "filled": true, "fill": "white", "stroke": "black", "strokeWidth": 1, "opacity": 1},
      "encoding": {
        "x": {"field": "x", "type": "quantitative"},
        "y": {"field": "y", "type": "quantitative"},
        "shape": {"condition": {"test": "length(datum.lab) > 2", "value": "M-1,-0.552H1V0.552H-1Z"}, "value": "M-1,-0.8H1V0.8H-1Z"},
        "size": {"condition": {"test": "length(datum.lab) > 2", "value": 841}, "value": 400}
      }
    },
    {
      "data": {"name": "labs"},
      "mark": {"type": "text", "font": "Open Sans", "fontSize": 15, "color": "#111111", "baseline": "middle", "dy": 1},
      "encoding": {
        "x": {"field": "x", "type": "quantitative"},
        "y": {"field": "y", "type": "quantitative"},
        "text": {"field": "lab"}
      }
    }
  ]
}
],
"resolve": {"scale": {"x": "independent", "y": "independent"}, "axis": {"x": "independent", "y": "independent"}}
}
